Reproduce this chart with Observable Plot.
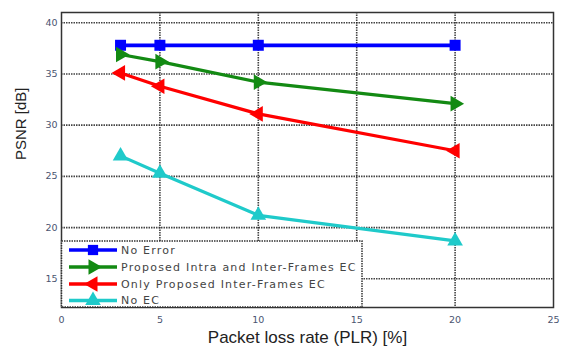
<!DOCTYPE html>
<html>
<head>
<meta charset="utf-8">
<script src="https://cdn.jsdelivr.net/npm/d3@7"></script>
<script src="https://cdn.jsdelivr.net/npm/@observablehq/plot@0.6"></script>
<style>
  html, body { margin: 0; padding: 0; background: #fff; }
  #chart { position: relative; width: 561px; height: 356px; }
</style>
</head>
<body>
<div id="chart"></div>
<script>
const plr = [3, 5, 10, 20];
const noError = [37.8, 37.8, 37.8, 37.8];
const intraInter = [36.9, 36.2, 34.2, 32.1];
const onlyInter = [35.1, 33.8, 31.1, 27.5];
const noEC = [27.0, 25.3, 21.2, 18.7];
const seriesNames = ["No Error", "Proposed Intra and Inter-Frames EC", "Only Proposed Inter-Frames EC", "No EC"];
const seriesColors = ["#0000ff", "#138a13", "#ff0000", "#1fcaca"];
const seriesSymbols = ["square", "triangle", "triangle", "triangle"];
const seriesRotate = [0, 90, -90, 0];
const xTicks = [0, 5, 10, 15, 20, 25];
const yTicks = [15, 20, 25, 30, 35, 40];

const valueLists = [noError, intraInter, onlyInter, noEC];
const rows = [];
valueLists.forEach((vals, s) => vals.forEach((v, i) => rows.push({series: seriesNames[s], x: plr[i], y: v, s})));

const gridStyle = {stroke: "#222", strokeWidth: 1.6, strokeDasharray: "1.5,1", strokeOpacity: 0.85};

const lineMarks = seriesNames.map((name, s) =>
  Plot.line(rows.filter(d => d.s === s), {x: "x", y: "y", stroke: seriesColors[s], strokeWidth: s === 0 ? 3.8 : 3.2}));
const dotMarks = seriesNames.map((name, s) =>
  Plot.dot(rows.filter(d => d.s === s), {x: "x", y: "y", symbol: seriesSymbols[s], rotate: seriesRotate[s], r: s === 0 ? 6.2 : 5.8, fill: seriesColors[s], stroke: "none"}));

const chart = Plot.plot({
  width: 561,
  height: 356,
  marginLeft: 61,
  marginRight: 8,
  marginTop: 12,
  marginBottom: 49,
  style: {fontFamily: "'Liberation Sans', Arial, sans-serif", background: "#fff"},
  x: {domain: [0, 25]},
  y: {domain: [12.2, 41]},
  marks: [
    Plot.ruleX(xTicks.slice(1, -1), gridStyle),
    Plot.ruleY(yTicks, gridStyle),
    Plot.axisX({ticks: xTicks, tickSize: 0, tickPadding: 9, fontSize: 9.5, color: "#4a5470", label: null, fontFamily: "'DejaVu Sans', sans-serif"}),
    Plot.axisY({ticks: yTicks, tickSize: 0, tickPadding: 4, fontSize: 9.5, color: "#4a5470", label: null, fontFamily: "'DejaVu Sans', sans-serif"}),
    ...lineMarks,
    ...dotMarks,
    Plot.frame({stroke: "#333", strokeWidth: 1.5}),
    Plot.text(["Packet loss rate (PLR) [%]"], {frameAnchor: "bottom", dy: 35, fontSize: 17, fill: "#222", textAnchor: "middle"}),
    Plot.text(["PSNR [dB]"], {frameAnchor: "left", rotate: -90, dx: -40, fontSize: 15, fill: "#222"})
  ]
});
document.getElementById("chart").appendChild(chart);

// Legend drawn inside the plot area (lower-left), like the original figure
const svg = d3.select(chart);
const lg = svg.append("g").attr("text-anchor", "start");
lg.append("rect").attr("x", 61.5).attr("y", 241).attr("width", 300.5).attr("height", 66)
  .attr("fill", "#fff").attr("stroke", "#333").attr("stroke-width", 1.5).attr("stroke-dasharray", "1.5,1");
const legendY = [250, 267, 284, 300.5];
seriesNames.forEach((name, s) => {
  const y = legendY[s];
  lg.append("line").attr("x1", 69).attr("x2", 117).attr("y1", y).attr("y2", y)
    .attr("stroke", seriesColors[s]).attr("stroke-width", 3.6);
  const sym = d3.symbol().type(seriesSymbols[s] === "square" ? d3.symbolSquare : d3.symbolTriangle).size(105);
  lg.append("path").attr("d", sym()).attr("fill", seriesColors[s])
    .attr("transform", `translate(93,${y}) rotate(${seriesRotate[s]})`);
  lg.append("text").attr("x", 121).attr("y", y).attr("dy", "0.35em").attr("text-anchor", "start")
    .attr("font-family", "'DejaVu Sans', sans-serif")
    .attr("font-size", 11).attr("fill", "#444").attr("letter-spacing", 1.2).text(name);
});
</script>
</body>
</html>
